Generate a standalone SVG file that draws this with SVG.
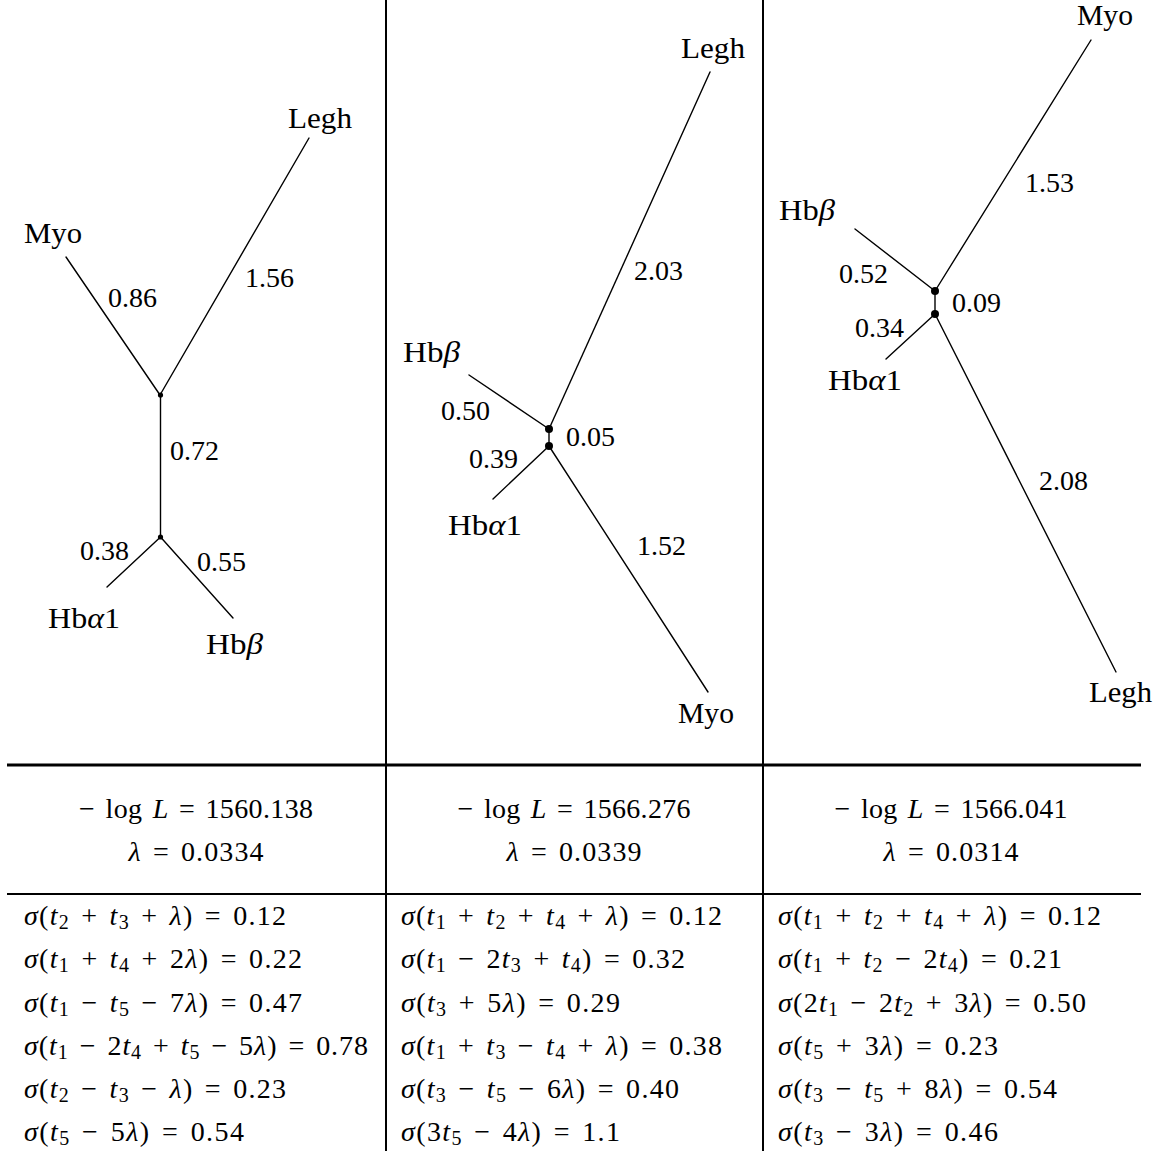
<svg xmlns="http://www.w3.org/2000/svg" width="1158" height="1151" viewBox="0 0 1158 1151" font-family="'Liberation Serif', 'Times New Roman', serif">
<style>
text{font-family:"Liberation Serif","Times New Roman",serif;font-size:28px;fill:#000}
.nm{font-size:29px}
.m{word-spacing:3px}
.i{font-style:italic}
.sb{font-size:20px}
.br{stroke:#000;stroke-width:1.4;fill:none;stroke-linecap:round}
.rule{stroke:#000;fill:none}
</style>
<rect x="0" y="0" width="1158" height="1151" fill="#fff"/>
<g id="table-rules">
<line class="rule" x1="386" y1="0" x2="386" y2="1151" stroke-width="2"/>
<line class="rule" x1="763" y1="0" x2="763" y2="1151" stroke-width="2"/>
<line class="rule" x1="7" y1="765" x2="1141" y2="765" stroke-width="3"/>
<line class="rule" x1="7" y1="894" x2="1141" y2="894" stroke-width="2"/>
</g>
<g id="connectors">
<line class="br" x1="66" y1="257" x2="160" y2="395"/>
<line class="br" x1="309" y1="138" x2="160" y2="395"/>
<line class="br" x1="160.5" y1="395" x2="160.5" y2="537"/>
<line class="br" x1="160.5" y1="537" x2="107" y2="587"/>
<line class="br" x1="160.5" y1="537" x2="233" y2="618"/>
<line class="br" x1="469" y1="375" x2="549" y2="429"/>
<line class="br" x1="710" y1="72" x2="549" y2="429"/>
<line class="br" x1="549" y1="429" x2="549" y2="446"/>
<line class="br" x1="493" y1="499" x2="549" y2="446"/>
<line class="br" x1="549" y1="446" x2="708" y2="692"/>
<line class="br" x1="855" y1="229" x2="935" y2="291"/>
<line class="br" x1="1091" y1="40" x2="935" y2="291"/>
<line class="br" x1="935" y1="291" x2="935" y2="314"/>
<line class="br" x1="886" y1="359" x2="935" y2="314"/>
<line class="br" x1="935" y1="314" x2="1116" y2="672"/>
</g>
<g id="tree1">
<circle id="t1-n1" cx="160.5" cy="395" r="2.6"/>
<circle id="t1-n2" cx="160.5" cy="537" r="2.6"/>
<text class="nm" x="24" y="243" textLength="58" lengthAdjust="spacingAndGlyphs">Myo</text>
<text class="nm" x="288" y="128" textLength="64" lengthAdjust="spacingAndGlyphs">Legh</text>
<text x="108" y="307">0.86</text>
<text x="245" y="287">1.56</text>
<text x="170" y="460">0.72</text>
<text x="80" y="560">0.38</text>
<text x="197" y="571">0.55</text>
<text class="nm" x="48" y="628" textLength="72" lengthAdjust="spacingAndGlyphs">Hb<tspan class="i">α</tspan>1</text>
<text class="nm" x="206" y="654" textLength="57" lengthAdjust="spacingAndGlyphs">Hb<tspan class="i">β</tspan></text>
</g>
<g id="tree2">
<circle id="t2-n1" cx="549" cy="429" r="4"/>
<circle id="t2-n2" cx="549" cy="446" r="4"/>
<text class="nm" x="681" y="58" textLength="64" lengthAdjust="spacingAndGlyphs">Legh</text>
<text x="634" y="280">2.03</text>
<text class="nm" x="403" y="362" textLength="57" lengthAdjust="spacingAndGlyphs">Hb<tspan class="i">β</tspan></text>
<text x="441" y="420">0.50</text>
<text x="566" y="446">0.05</text>
<text x="469" y="468">0.39</text>
<text class="nm" x="448" y="535" textLength="74" lengthAdjust="spacingAndGlyphs">Hb<tspan class="i">α</tspan>1</text>
<text x="637" y="555">1.52</text>
<text class="nm" x="678" y="723" textLength="56" lengthAdjust="spacingAndGlyphs">Myo</text>
</g>
<g id="tree3">
<circle id="t3-n1" cx="935" cy="291" r="4"/>
<circle id="t3-n2" cx="935" cy="314" r="4"/>
<text class="nm" x="1077" y="25" textLength="56" lengthAdjust="spacingAndGlyphs">Myo</text>
<text x="1025" y="192">1.53</text>
<text class="nm" x="779" y="220" textLength="56" lengthAdjust="spacingAndGlyphs">Hb<tspan class="i">β</tspan></text>
<text x="839" y="283">0.52</text>
<text x="952" y="312">0.09</text>
<text x="855" y="337">0.34</text>
<text class="nm" x="828" y="390" textLength="74" lengthAdjust="spacingAndGlyphs">Hb<tspan class="i">α</tspan>1</text>
<text x="1039" y="490">2.08</text>
<text class="nm" x="1089" y="702" textLength="63" lengthAdjust="spacingAndGlyphs">Legh</text>
</g>
<g id="likelihoods" text-anchor="middle">
<text class="m" x="196" y="818" textLength="234">− log <tspan class="i">L</tspan> = 1560.138</text>
<text class="m" x="196" y="861" textLength="135"><tspan class="i">λ</tspan> = 0.0334</text>
<text class="m" x="574" y="818" textLength="233">− log <tspan class="i">L</tspan> = 1566.276</text>
<text class="m" x="574" y="861" textLength="135"><tspan class="i">λ</tspan> = 0.0339</text>
<text class="m" x="951" y="818" textLength="233">− log <tspan class="i">L</tspan> = 1566.041</text>
<text class="m" x="951" y="861" textLength="135"><tspan class="i">λ</tspan> = 0.0314</text>
</g>
<g id="sigmas-col1">
<text class="m" x="24" y="925" textLength="262"><tspan class="i">σ</tspan>(<tspan class="i">t</tspan><tspan class="sb" dy="4">2</tspan><tspan dy="-4"> + </tspan><tspan class="i">t</tspan><tspan class="sb" dy="4">3</tspan><tspan dy="-4"> + </tspan><tspan class="i">λ</tspan>) = 0.12</text>
<text class="m" x="24" y="968" textLength="278"><tspan class="i">σ</tspan>(<tspan class="i">t</tspan><tspan class="sb" dy="4">1</tspan><tspan dy="-4"> + </tspan><tspan class="i">t</tspan><tspan class="sb" dy="4">4</tspan><tspan dy="-4"> + 2</tspan><tspan class="i">λ</tspan>) = 0.22</text>
<text class="m" x="24" y="1012" textLength="278"><tspan class="i">σ</tspan>(<tspan class="i">t</tspan><tspan class="sb" dy="4">1</tspan><tspan dy="-4"> − </tspan><tspan class="i">t</tspan><tspan class="sb" dy="4">5</tspan><tspan dy="-4"> − 7</tspan><tspan class="i">λ</tspan>) = 0.47</text>
<text class="m" x="24" y="1055" textLength="344"><tspan class="i">σ</tspan>(<tspan class="i">t</tspan><tspan class="sb" dy="4">1</tspan><tspan dy="-4"> − 2</tspan><tspan class="i">t</tspan><tspan class="sb" dy="4">4</tspan><tspan dy="-4"> + </tspan><tspan class="i">t</tspan><tspan class="sb" dy="4">5</tspan><tspan dy="-4"> − 5</tspan><tspan class="i">λ</tspan>) = 0.78</text>
<text class="m" x="24" y="1098" textLength="262"><tspan class="i">σ</tspan>(<tspan class="i">t</tspan><tspan class="sb" dy="4">2</tspan><tspan dy="-4"> − </tspan><tspan class="i">t</tspan><tspan class="sb" dy="4">3</tspan><tspan dy="-4"> − </tspan><tspan class="i">λ</tspan>) = 0.23</text>
<text class="m" x="24" y="1141" textLength="220"><tspan class="i">σ</tspan>(<tspan class="i">t</tspan><tspan class="sb" dy="4">5</tspan><tspan dy="-4"> − 5</tspan><tspan class="i">λ</tspan>) = 0.54</text>
</g>
<g id="sigmas-col2">
<text class="m" x="401" y="925" textLength="321"><tspan class="i">σ</tspan>(<tspan class="i">t</tspan><tspan class="sb" dy="4">1</tspan><tspan dy="-4"> + </tspan><tspan class="i">t</tspan><tspan class="sb" dy="4">2</tspan><tspan dy="-4"> + </tspan><tspan class="i">t</tspan><tspan class="sb" dy="4">4</tspan><tspan dy="-4"> + </tspan><tspan class="i">λ</tspan>) = 0.12</text>
<text class="m" x="401" y="968" textLength="284"><tspan class="i">σ</tspan>(<tspan class="i">t</tspan><tspan class="sb" dy="4">1</tspan><tspan dy="-4"> − 2</tspan><tspan class="i">t</tspan><tspan class="sb" dy="4">3</tspan><tspan dy="-4"> + </tspan><tspan class="i">t</tspan><tspan class="sb" dy="4">4</tspan><tspan dy="-4">) = 0.32</tspan></text>
<text class="m" x="401" y="1012" textLength="219"><tspan class="i">σ</tspan>(<tspan class="i">t</tspan><tspan class="sb" dy="4">3</tspan><tspan dy="-4"> + 5</tspan><tspan class="i">λ</tspan>) = 0.29</text>
<text class="m" x="401" y="1055" textLength="321"><tspan class="i">σ</tspan>(<tspan class="i">t</tspan><tspan class="sb" dy="4">1</tspan><tspan dy="-4"> + </tspan><tspan class="i">t</tspan><tspan class="sb" dy="4">3</tspan><tspan dy="-4"> − </tspan><tspan class="i">t</tspan><tspan class="sb" dy="4">4</tspan><tspan dy="-4"> + </tspan><tspan class="i">λ</tspan>) = 0.38</text>
<text class="m" x="401" y="1098" textLength="278"><tspan class="i">σ</tspan>(<tspan class="i">t</tspan><tspan class="sb" dy="4">3</tspan><tspan dy="-4"> − </tspan><tspan class="i">t</tspan><tspan class="sb" dy="4">5</tspan><tspan dy="-4"> − 6</tspan><tspan class="i">λ</tspan>) = 0.40</text>
<text class="m" x="401" y="1141" textLength="219"><tspan class="i">σ</tspan>(3<tspan class="i">t</tspan><tspan class="sb" dy="4">5</tspan><tspan dy="-4"> − 4</tspan><tspan class="i">λ</tspan>) = 1.1</text>
</g>
<g id="sigmas-col3">
<text class="m" x="778" y="925" textLength="323"><tspan class="i">σ</tspan>(<tspan class="i">t</tspan><tspan class="sb" dy="4">1</tspan><tspan dy="-4"> + </tspan><tspan class="i">t</tspan><tspan class="sb" dy="4">2</tspan><tspan dy="-4"> + </tspan><tspan class="i">t</tspan><tspan class="sb" dy="4">4</tspan><tspan dy="-4"> + </tspan><tspan class="i">λ</tspan>) = 0.12</text>
<text class="m" x="778" y="968" textLength="284"><tspan class="i">σ</tspan>(<tspan class="i">t</tspan><tspan class="sb" dy="4">1</tspan><tspan dy="-4"> + </tspan><tspan class="i">t</tspan><tspan class="sb" dy="4">2</tspan><tspan dy="-4"> − 2</tspan><tspan class="i">t</tspan><tspan class="sb" dy="4">4</tspan><tspan dy="-4">) = 0.21</tspan></text>
<text class="m" x="778" y="1012" textLength="308"><tspan class="i">σ</tspan>(2<tspan class="i">t</tspan><tspan class="sb" dy="4">1</tspan><tspan dy="-4"> − 2</tspan><tspan class="i">t</tspan><tspan class="sb" dy="4">2</tspan><tspan dy="-4"> + 3</tspan><tspan class="i">λ</tspan>) = 0.50</text>
<text class="m" x="778" y="1055" textLength="220"><tspan class="i">σ</tspan>(<tspan class="i">t</tspan><tspan class="sb" dy="4">5</tspan><tspan dy="-4"> + 3</tspan><tspan class="i">λ</tspan>) = 0.23</text>
<text class="m" x="778" y="1098" textLength="279"><tspan class="i">σ</tspan>(<tspan class="i">t</tspan><tspan class="sb" dy="4">3</tspan><tspan dy="-4"> − </tspan><tspan class="i">t</tspan><tspan class="sb" dy="4">5</tspan><tspan dy="-4"> + 8</tspan><tspan class="i">λ</tspan>) = 0.54</text>
<text class="m" x="778" y="1141" textLength="220"><tspan class="i">σ</tspan>(<tspan class="i">t</tspan><tspan class="sb" dy="4">3</tspan><tspan dy="-4"> − 3</tspan><tspan class="i">λ</tspan>) = 0.46</text>
</g>
</svg>
